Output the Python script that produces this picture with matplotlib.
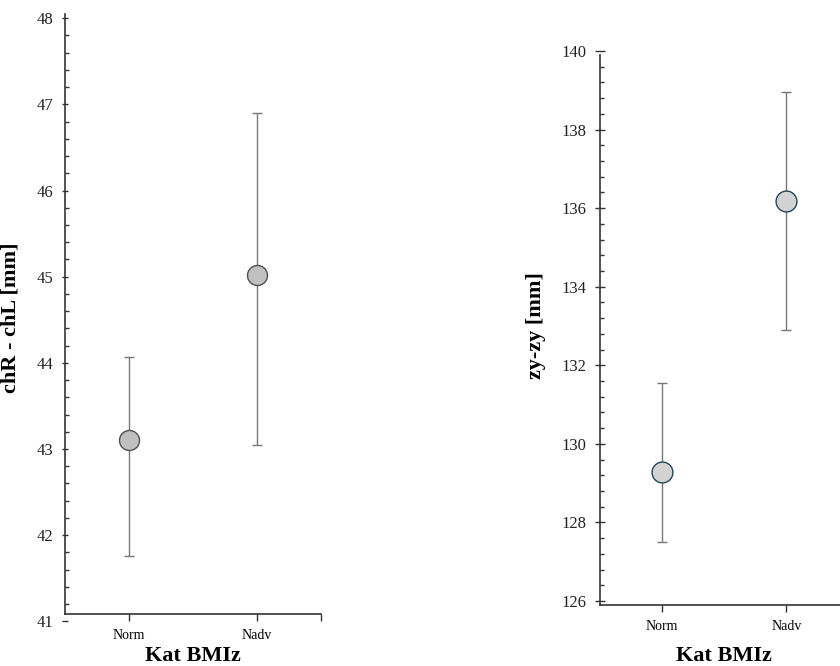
import matplotlib.pyplot as plt
from matplotlib.ticker import MultipleLocator

plt.rcParams['font.family'] = ['Liberation Serif', 'DejaVu Serif']

# data
groups = ["Norm", "Nadv"]

chr_mean = [43.10, 45.02]
chr_low = [41.76, 43.05]
chr_high = [44.07, 46.90]

zy_mean = [129.29, 136.18]
zy_low = [127.49, 132.89]
zy_high = [131.55, 138.95]

fig = plt.figure(figsize=(8.4, 6.66), dpi=100)


def draw_panel(ax, mean, low, high, ylabel, face, edge, msize, major, minor,
               ylim, spine_lo, spine_hi, maj_len, ylab_x, xlab_y):
    x = list(range(len(groups)))
    yerr = [[m - l for m, l in zip(mean, low)], [h - m for m, h in zip(mean, high)]]
    ax.errorbar(x, mean, yerr=yerr, fmt='none', ecolor='#777777', elinewidth=1.0,
                capsize=3.5, capthick=1.0, zorder=2)
    ax.plot(x, mean, 'o', ms=msize, mfc=face, mec=edge, mew=1.0, zorder=3)

    ax.set_xlim(-0.5, 1.5)
    ax.set_ylim(*ylim)
    ax.set_xticks([0, 1, 1.5])
    ax.set_xticklabels(groups + [""], fontsize=11, color='#222222')
    ax.yaxis.set_major_locator(MultipleLocator(major))
    ax.yaxis.set_minor_locator(MultipleLocator(minor))
    ax.tick_params(axis='y', which='major', direction='inout', length=maj_len,
                   width=1.0, color='#333333', labelsize=12, labelcolor='#222222',
                   pad=6)
    ax.tick_params(axis='y', which='minor', direction='in', length=3,
                   width=1.0, color='#333333')
    ax.tick_params(axis='x', which='major', direction='out', length=5,
                   width=1.0, color='#333333', pad=6)

    for s in ['top', 'right']:
        ax.spines[s].set_visible(False)
    ax.spines['bottom'].set_position(('data', spine_lo))
    ax.spines['left'].set_bounds(spine_lo, spine_hi)
    for s in ['left', 'bottom']:
        ax.spines[s].set_color('#333333')
        ax.spines[s].set_linewidth(1.2)

    ax.set_ylabel(ylabel, fontsize=16, fontweight='bold')
    ax.yaxis.set_label_coords(ylab_x, 0.5)
    ax.set_xlabel("Kat BMIz", fontsize=16, fontweight='bold')
    ax.xaxis.set_label_coords(0.5, xlab_y)


ax1 = fig.add_axes([0.0774, 0.0671, 0.3048, 0.912])
draw_panel(ax1, chr_mean, chr_low, chr_high, "chR - chL [mm]",
           '#c0c0c0', '#505050', 14.4, 1, 0.2,
           (41, 48.05), 41.085, 48.05, 5, -0.172, -0.040)

ax2 = fig.add_axes([0.7143, 0.0917, 0.296, 0.8377])
draw_panel(ax2, zy_mean, zy_low, zy_high, "zy-zy [mm]",
           '#d3d3d3', '#24465a', 15, 2, 0.4,
           (125.9, 140.1), 125.9, 139.9, 7, -0.217, -0.073)

fig.savefig("out.png", dpi=100)
